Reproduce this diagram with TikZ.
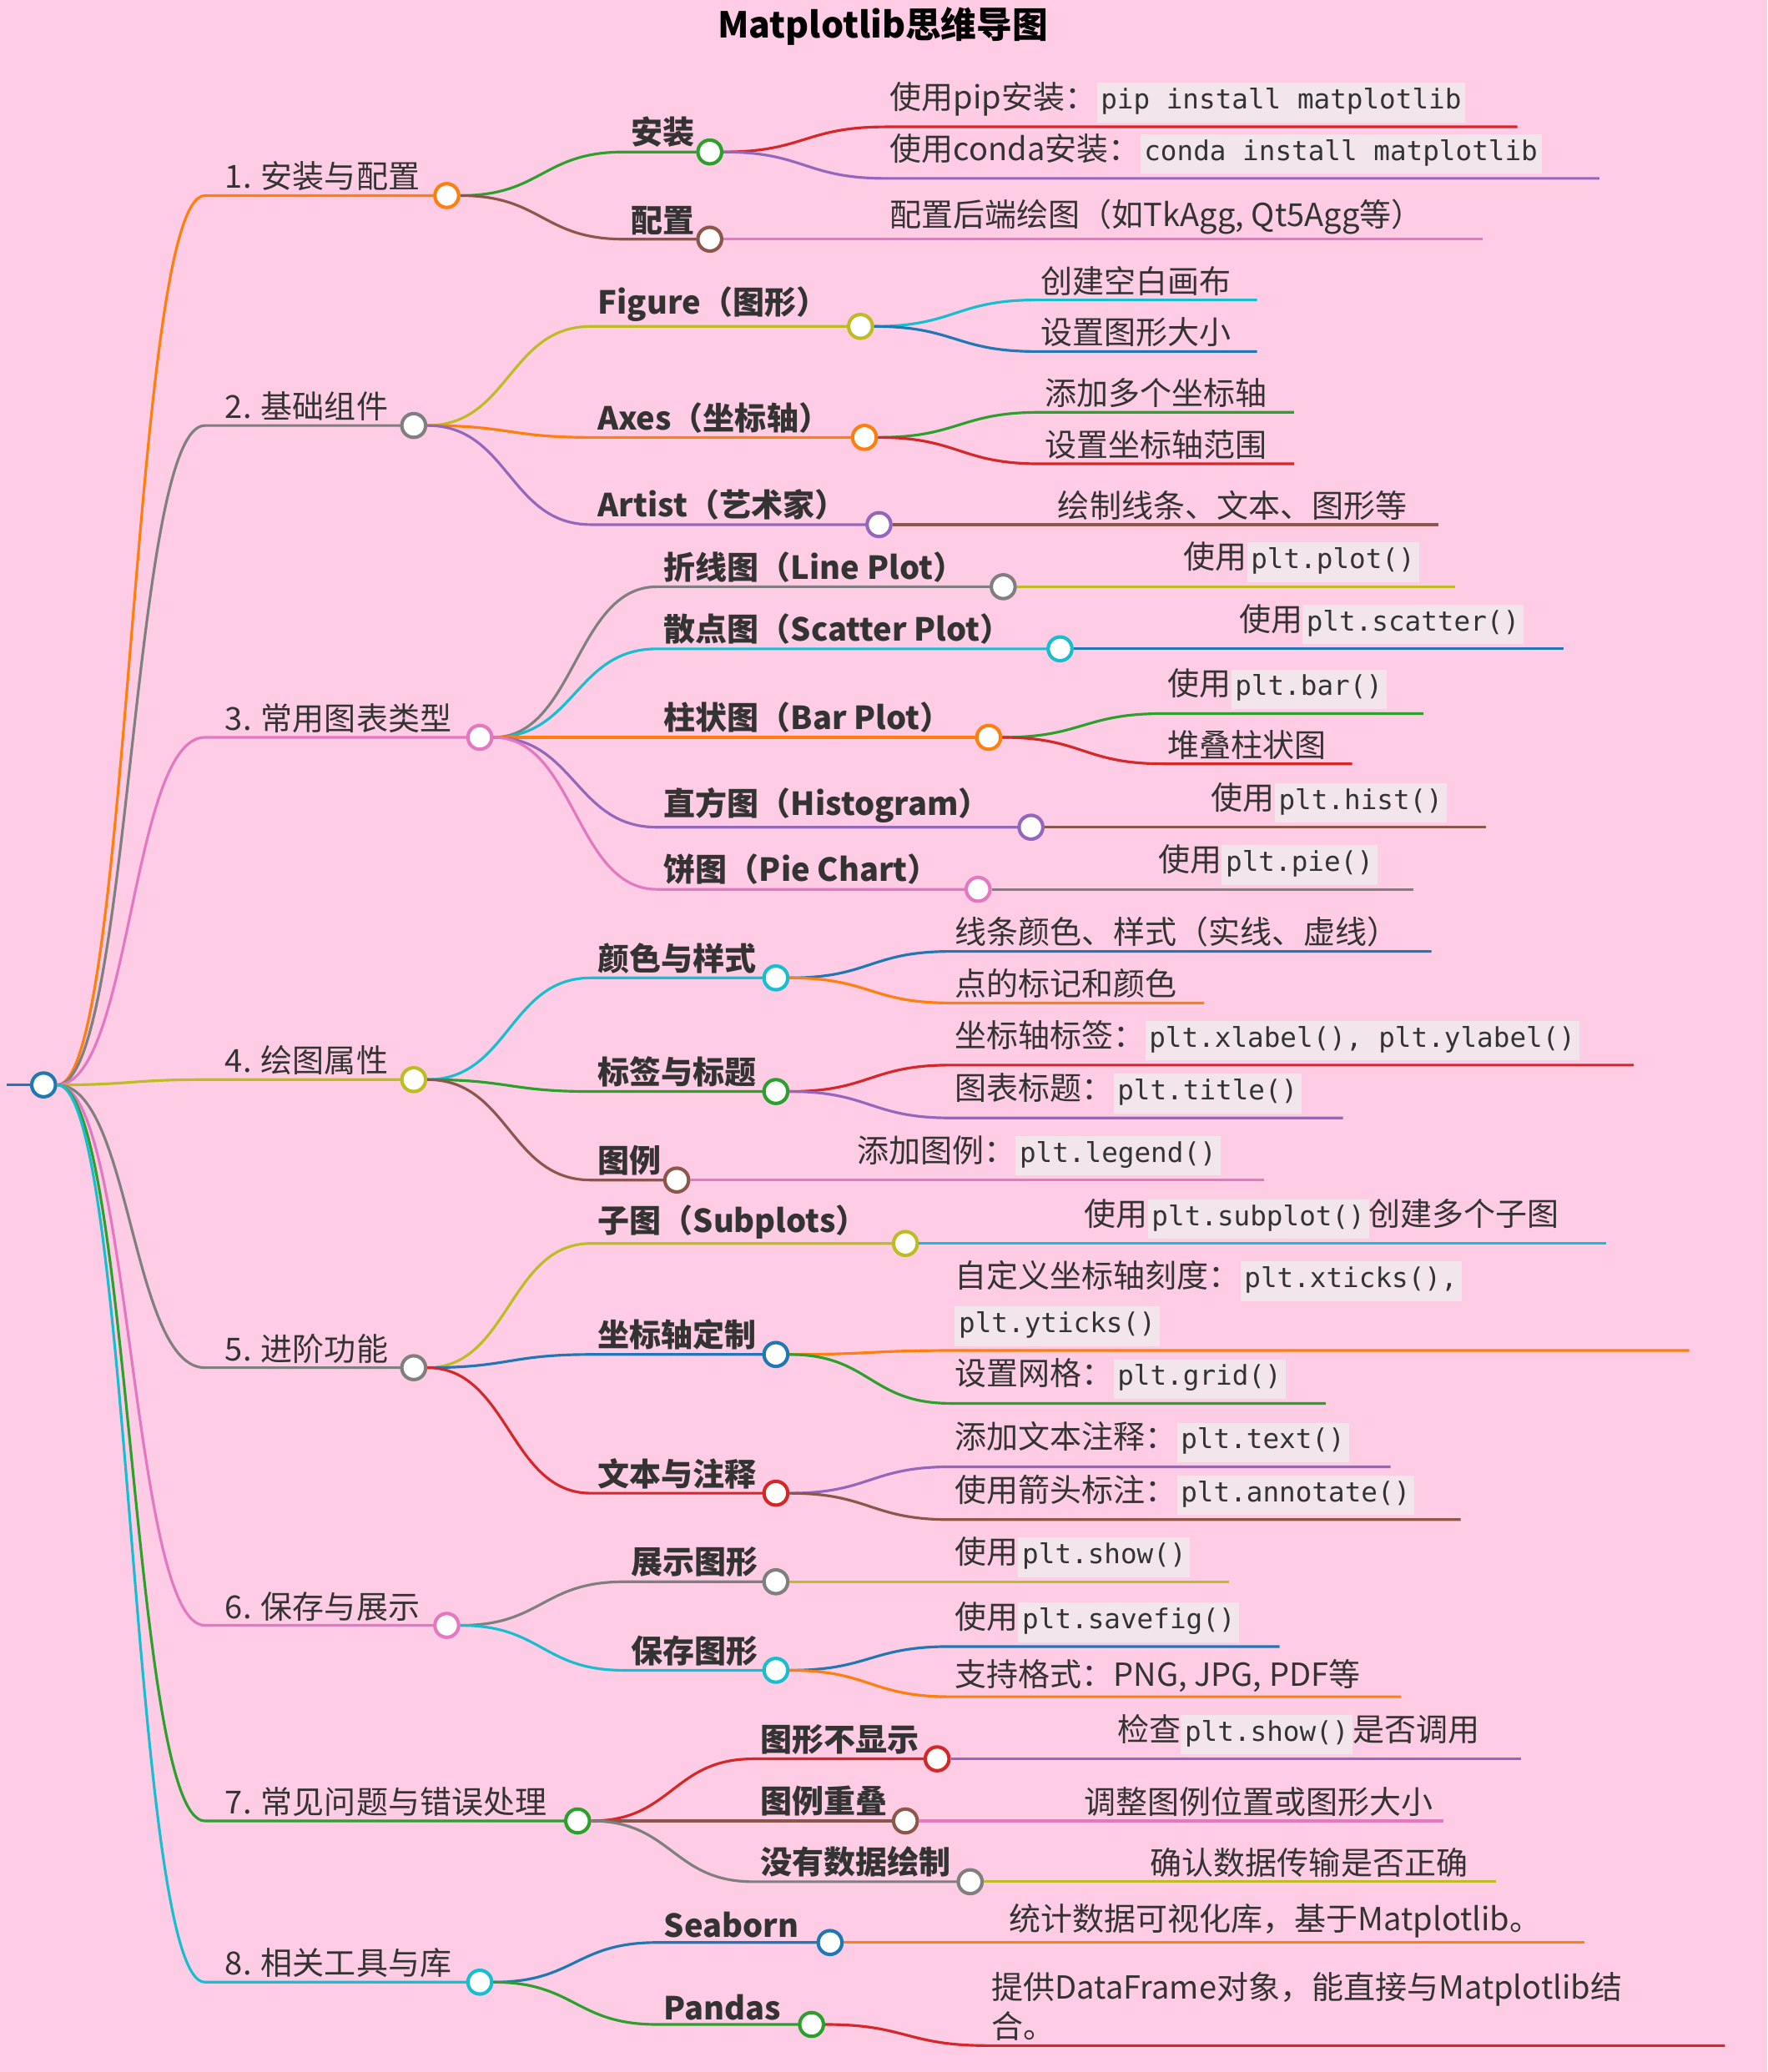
\documentclass[tikz,border=0pt]{standalone}
\usepackage{fontspec}
\usetikzlibrary{calc}
\setmainfont{Noto Sans CJK SC}
\newfontfamily\mono{DejaVu Sans Mono}
\definecolor{bg}{HTML}{FFCCE5}
\definecolor{codebg}{HTML}{F2E6EC}
\definecolor{cO}{HTML}{FF7F0E}\definecolor{cG}{HTML}{7F7F7F}\definecolor{cP}{HTML}{E377C2}
\definecolor{cY}{HTML}{BCBD22}\definecolor{cN}{HTML}{2CA02C}\definecolor{cC}{HTML}{17BECF}
\definecolor{cB}{HTML}{1F77B4}\definecolor{cR}{HTML}{D62728}\definecolor{cV}{HTML}{9467BD}
\definecolor{cW}{HTML}{8C564B}\definecolor{txt}{HTML}{333333}
\newcommand\cd[1]{{\setlength\fboxsep{1.5pt}\colorbox{codebg}{\mono\fontsize{10.3}{12}\selectfont\strut #1}}}
\tikzset{
 conn/.style={line width=1pt},
 circ/.style={circle,fill=white,line width=1.3pt,minimum size=9pt,inner sep=0pt},
 lbl/.style={anchor=south west,inner sep=1.5pt,text=txt,align=left},
}
% #1 parent, #2 sx, #3 y, #4 ex, #5 color, #6 text, #7 name, #8 font, #9 shift
\newcommand\Br[9]{%
 \coordinate (#7s) at (#2,#3);
 \coordinate (#7m) at ($(#1.east)!0.5!(#7s)$);
 \draw[conn,#5] (#1.east) .. controls (#7m |- #1.east) and (#7m |- #7s) .. (#7s) -- (#4,#3) node[circ,draw=#5] (#7) {};
 \node[lbl,font={\fontsize{12}{14}\selectfont#8}] (#7t) at ([xshift=#9]#7s) {#6};}
\newcommand\Lf[7]{%
 \coordinate (#7s) at (#2,#3);
 \coordinate (#7m) at ($(#1.east)!0.5!(#7s)$);
 \coordinate (#7e) at (#4,#3);
 \draw[conn,#5] (#1.east) .. controls (#7m |- #1.east) and (#7m |- #7s) .. (#7s) -- (#7e);
 \node[lbl] (#7t) at (#7s) {#6};}
\begin{document}
\begin{tikzpicture}[x=0.5pt,y=-0.5pt,font=\fontsize{12}{14}\selectfont]
\fill[bg] (0,0) rectangle (1337,1568);
\useasboundingbox (0,0) rectangle (1337,1568);
\node[font=\bfseries\fontsize{13.5}{15}\selectfont,text=black] (title) at (668,20) {Matplotlib思维导图};
\coordinate (rl) at (5,821);
\node[circ,draw=cB] (root) at (33,821) {};
\draw[conn,cB] (rl) -- (root.west);
\newcommand\bo{\bfseries}
\newcommand\no{\normalfont}
% level 1
\Br{root}{155}{148}{338}{cO}{1. 安装与配置}{a}{\no}{6pt}
\Br{root}{155}{322}{313}{cG}{2. 基础组件}{b}{\no}{6pt}
\Br{root}{155}{558}{363}{cP}{3. 常用图表类型}{c}{\no}{6pt}
\Br{root}{155}{817}{313}{cY}{4. 绘图属性}{d}{\no}{6pt}
\Br{root}{155}{1035}{313}{cG}{5. 进阶功能}{e}{\no}{6pt}
\Br{root}{155}{1230}{338}{cP}{6. 保存与展示}{f}{\no}{6pt}
\Br{root}{155}{1378}{437}{cN}{7. 常见问题与错误处理}{g}{\no}{6pt}
\Br{root}{155}{1500}{363}{cC}{8. 相关工具与库}{h}{\no}{6pt}
% level 2
\Br{a}{472}{115}{537}{cN}{安装}{a1}{\bo}{1pt}
\Br{a}{472}{181}{537}{cW}{配置}{a2}{\bo}{1pt}
\Br{b}{447}{247}{651}{cY}{Figure（图形）}{b1}{\bo}{1pt}
\Br{b}{447}{331}{654}{cO}{Axes（坐标轴）}{b2}{\bo}{1pt}
\Br{b}{447}{397}{665}{cV}{Artist（艺术家）}{b3}{\bo}{1pt}
\Br{c}{497}{444}{759}{cG}{折线图（Line Plot）}{c1}{\bo}{1pt}
\Br{c}{497}{491}{802}{cC}{散点图（Scatter Plot）}{c2}{\bo}{1pt}
\Br{c}{497}{558}{748}{cO}{柱状图（Bar Plot）}{c3}{\bo}{1pt}
\Br{c}{497}{626}{780}{cV}{直方图（Histogram）}{c4}{\bo}{1pt}
\Br{c}{497}{673}{740}{cP}{饼图（Pie Chart）}{c5}{\bo}{1pt}
\Br{d}{447}{740}{587}{cC}{颜色与样式}{d1}{\bo}{1pt}
\Br{d}{447}{826}{587}{cN}{标签与标题}{d2}{\bo}{1pt}
\Br{d}{447}{893}{512}{cW}{图例}{d3}{\bo}{1pt}
\Br{e}{447}{941}{685}{cY}{子图（Subplots）}{e1}{\bo}{1pt}
\Br{e}{447}{1025}{587}{cB}{坐标轴定制}{e2}{\bo}{1pt}
\Br{e}{447}{1130}{587}{cR}{文本与注释}{e3}{\bo}{1pt}
\Br{f}{472}{1197}{587}{cG}{展示图形}{f1}{\bo}{1pt}
\Br{f}{472}{1264}{587}{cC}{保存图形}{f2}{\bo}{1pt}
\Br{g}{570}{1331}{709}{cR}{图形不显示}{g1}{\bo}{1pt}
\Br{g}{570}{1378}{685}{cW}{图例重叠}{g2}{\bo}{1pt}
\Br{g}{570}{1424}{734}{cG}{没有数据绘制}{g3}{\bo}{1pt}
\Br{h}{497}{1470}{628}{cB}{Seaborn}{h1}{\bo}{1pt}
\Br{h}{497}{1532}{614}{cN}{Pandas}{h2}{\bo}{1pt}
% leaves
\Lf{a1}{670}{96}{1148}{cR}{使用pip安装：\cd{pip install matplotlib}}{l1}
\Lf{a1}{670}{135}{1210}{cV}{使用conda安装：\cd{conda install matplotlib}}{l2}
\Lf{a2}{670}{181}{1122}{cP}{配置后端绘图（如TkAgg, Qt5Agg等）}{l3}
\Lf{b1}{784}{227}{951}{cC}{创建空白画布}{l4}
\Lf{b1}{784}{266}{951}{cB}{设置图形大小}{l5}
\Lf{b2}{787}{312}{979}{cN}{添加多个坐标轴}{l6}
\Lf{b2}{787}{351}{979}{cR}{设置坐标轴范围}{l7}
\Lf{b3}{797}{397}{1088}{cW}{绘制线条、文本、图形等}{l8}
\Lf{c1}{892}{444}{1101}{cY}{使用\cd{plt.plot()}}{l9}
\Lf{c2}{934}{491}{1183}{cB}{使用\cd{plt.scatter()}}{l10}
\Lf{c3}{880}{540}{1077}{cN}{使用\cd{plt.bar()}}{l11}
\Lf{c3}{880}{578}{1023}{cR}{堆叠柱状图}{l12}
\Lf{c4}{913}{626}{1124}{cW}{使用\cd{plt.hist()}}{l13}
\Lf{c5}{873}{673}{1069}{cG}{使用\cd{plt.pie()}}{l14}
\Lf{d1}{719}{720}{1083}{cB}{线条颜色、样式（实线、虚线）}{l15}
\Lf{d1}{719}{759}{911}{cO}{点的标记和颜色}{l16}
\Lf{d2}{719}{806}{1236}{cR}{坐标轴标签：\cd{plt.xlabel(), plt.ylabel()}}{l17}
\Lf{d2}{719}{846}{1016}{cV}{图表标题：\cd{plt.title()}}{l18}
\Lf{d3}{645}{893}{956}{cP}{添加图例：\cd{plt.legend()}}{l19}
\Lf{e1}{817}{941}{1215}{cC}{使用\cd{plt.subplot()}创建多个子图}{l20}
\Lf{e2}{719}{1022}{1278}{cO}{自定义坐标轴刻度：\cd{plt.xticks(),}\\[1pt]\cd{plt.yticks()}}{l21}
\Lf{e2}{719}{1062}{1003}{cN}{设置网格：\cd{plt.grid()}}{l22}
\Lf{e3}{719}{1110}{1052}{cV}{添加文本注释：\cd{plt.text()}}{l23}
\Lf{e3}{719}{1150}{1105}{cW}{使用箭头标注：\cd{plt.annotate()}}{l24}
\Lf{f1}{719}{1197}{930}{cY}{使用\cd{plt.show()}}{l25}
\Lf{f2}{719}{1246}{968}{cB}{使用\cd{plt.savefig()}}{l26}
\Lf{f2}{719}{1284}{1060}{cO}{支持格式：PNG, JPG, PDF等}{l27}
\Lf{g1}{842}{1331}{1151}{cV}{检查\cd{plt.show()}是否调用}{l28}
\Lf{g2}{817}{1378}{1092}{cP}{调整图例位置或图形大小}{l29}
\Lf{g3}{867}{1424}{1132}{cY}{确认数据传输是否正确}{l30}
\Lf{h1}{760}{1470}{1199}{cO}{统计数据可视化库，基于Matplotlib。}{l31}
\Lf{h2}{747}{1548}{1305}{cR}{提供DataFrame对象，能直接与Matplotlib结\\[1pt]合。}{l32}
\end{tikzpicture}
\end{document}
